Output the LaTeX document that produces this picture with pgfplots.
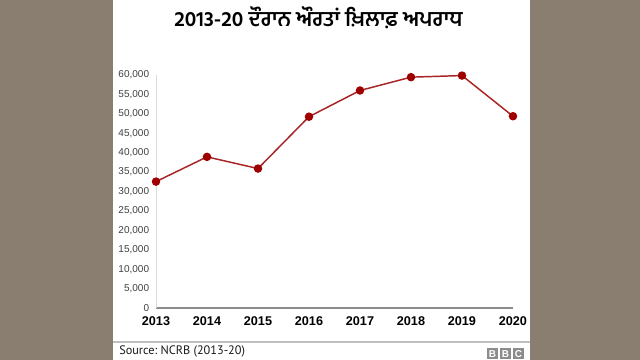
\documentclass[border=0pt]{standalone}
\usepackage{pgfplots}
\pgfplotsset{compat=1.18}
\usepackage{fontspec}
\setmainfont{Liberation Sans}
\newfontfamily\gurfont[Script=Gurmukhi]{Hind Jalandhar}
\newfontfamily\ptsans{PT Sans}
\definecolor{bgbrown}{HTML}{8A7E70}
\definecolor{linered}{HTML}{A82424}
\definecolor{markred}{HTML}{9E0000}
\frenchspacing
\begin{document}
\begin{tikzpicture}
\begin{scope}[x=0.75pt,y=0.75pt]
\fill[bgbrown] (0,0) rectangle (640,360);
\fill[white] (113,0) rectangle (530,360);
\draw[black!25, line width=1.5pt] (113,18) -- (530,18);
\node[font=\gurfont\bfseries\fontsize{15.8}{18}\selectfont, text=black] at (318.5,342.5) {2013-20 ਦੌਰਾਨ ਔਰਤਾਂ ਖ਼ਿਲਾਫ਼ ਅਪਰਾਧ};
\node[anchor=base west, font=\ptsans\fontsize{9.2}{10}\selectfont, text=black!90, inner sep=0pt] at (119,5) {Source: NCRB (2013-20)};
\foreach \i/\l in {0/B,1/B,2/C} {
  \fill[black!45] (487+\i*13,1) rectangle ++(11,10.5);
  \node[font=\bfseries\fontsize{7.5}{8}\selectfont, text=white, inner sep=0pt] at (492.5+\i*13,6.2) {\l};
}
\end{scope}
\begin{axis}[
  at={(117pt,39pt)}, anchor=south west,
  scale only axis, width=267.75pt, height=174.75pt,
  xmin=2013, xmax=2020, ymin=0, ymax=60000,
  axis x line=bottom, axis y line=left,
  axis line style={-},
  x axis line style={draw=black!45, line width=1pt},
  y axis line style={draw=black!15, line width=0.6pt},
  major tick length=0pt,
  xtick={2013,...,2020},
  xticklabels={2013,2014,2015,2016,2017,2018,2019,2020},
  ytick={0,5000,...,60000},
  scaled y ticks=false,
  /pgf/number format/assume math mode=true,
  yticklabel style={/pgf/number format/fixed, /pgf/number format/1000 sep={,}, font=\fontsize{7.5}{8}\selectfont, text=black!75, anchor=east, inner sep=0pt, xshift=-5pt},
  xticklabel style={font=\bfseries\fontsize{9.5}{11}\selectfont, text=black, anchor=north, inner sep=0pt, yshift=-6pt},
  clip=false,
]
\addplot[color=linered, line width=1.1pt, mark=*, mark size=2.6pt, mark options={fill=markred, draw=markred}] coordinates {
(2013,32546) (2014,38918) (2015,35908) (2016,49262) (2017,56011) (2018,59445) (2019,59853) (2020,49385)
};
\end{axis}
\end{tikzpicture}
\end{document}
